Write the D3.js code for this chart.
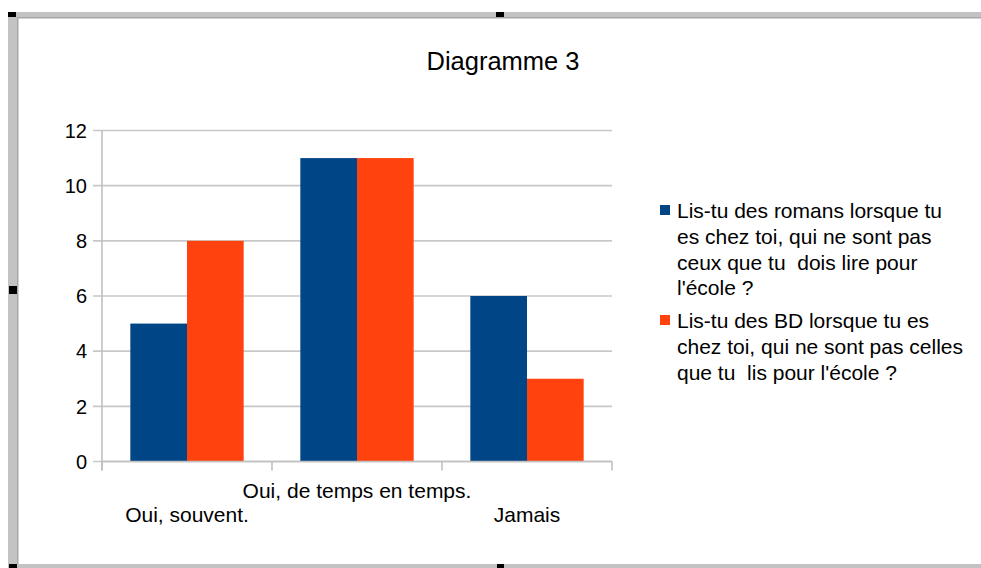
<!DOCTYPE html>
<html>
<head>
<meta charset="utf-8">
<script src="https://cdn.jsdelivr.net/npm/d3@7/dist/d3.min.js"></script>
<style>
  html, body { margin: 0; padding: 0; background: #fff; }
  svg { display: block; }
  text { font-family: "Liberation Sans", Arial, sans-serif; fill: #000; }
</style>
</head>
<body>
<svg id="chart" width="981" height="568"></svg>
<script>
const title = "Diagramme 3";
const categories = ["Oui, souvent.", "Oui, de temps en temps.", "Jamais"];
const seriesNames = [
  ["Lis-tu des romans lorsque tu", "es chez toi, qui ne sont pas", "ceux que tu  dois lire pour", "l'école ?"],
  ["Lis-tu des BD lorsque tu es", "chez toi, qui ne sont pas celles", "que tu  lis pour l'école ?"]
];
const romans = [5, 11, 6];
const bd = [8, 11, 3];
const yTicks = [0, 2, 4, 6, 8, 10, 12];
const colors = ["#004586", "#ff420e"];

const svg = d3.select("#chart");

// window frame (editor selection border)
svg.append("rect").attr("x", 0).attr("y", 0).attr("width", 981).attr("height", 568).attr("fill", "#fff");
svg.append("rect").attr("x", 8).attr("y", 12).attr("width", 973).attr("height", 6).attr("fill", "#c3c3c3");
svg.append("rect").attr("x", 18).attr("y", 17).attr("width", 963).attr("height", 1.5).attr("fill", "#a8a8a8");
svg.append("rect").attr("x", 8).attr("y", 12).attr("width", 10).attr("height", 556).attr("fill", "#c3c3c3");
svg.append("rect").attr("x", 17).attr("y", 17).attr("width", 1.5).attr("height", 548).attr("fill", "#a8a8a8");
svg.append("rect").attr("x", 8).attr("y", 564).attr("width", 973).attr("height", 4).attr("fill", "#c3c3c3");
// handles
[[8, 12, 8, 5], [496, 12, 8, 5], [9, 286, 8, 8], [497, 564, 7, 4], [9, 564, 8, 4]].forEach(h =>
  svg.append("rect").attr("x", h[0]).attr("y", h[1]).attr("width", h[2]).attr("height", h[3]).attr("fill", "#000"));

const plot = { left: 102, right: 612, top: 130.5, bottom: 461.5 };

const x0 = d3.scaleBand().domain(categories).range([plot.left, plot.right]).padding(0);
const x1 = d3.scaleBand().domain([0, 1]).range([0, x0.bandwidth()]).paddingInner(0).paddingOuter(0.5);
const y = d3.scaleLinear().domain([0, 12]).range([plot.bottom, plot.top]);

// gridlines
svg.append("g").selectAll("line").data(yTicks).join("line")
  .attr("x1", plot.left - 9).attr("x2", plot.right)
  .attr("y1", d => y(d)).attr("y2", d => y(d))
  .attr("stroke", "#c8c8c8").attr("stroke-width", 1.6);

// y axis line
svg.append("line").attr("x1", plot.left).attr("x2", plot.left)
  .attr("y1", plot.top).attr("y2", plot.bottom + 9)
  .attr("stroke", "#c0c0c0").attr("stroke-width", 1.6);

// y tick labels
svg.append("g").selectAll("text").data(yTicks).join("text")
  .attr("x", 87).attr("y", d => y(d)).attr("dy", "0.36em")
  .attr("text-anchor", "end").attr("font-size", 20)
  .text(d => d);

// bars
const series = [romans, bd];
series.forEach((vals, si) => {
  svg.append("g").selectAll("rect").data(vals).join("rect")
    .attr("x", (d, i) => x0(categories[i]) + x1(si))
    .attr("width", x1.bandwidth())
    .attr("y", d => y(d))
    .attr("height", d => y(0) - y(d))
    .attr("fill", colors[si]);
});

// x axis line and ticks
svg.append("line").attr("x1", plot.left).attr("x2", plot.right)
  .attr("y1", plot.bottom).attr("y2", plot.bottom)
  .attr("stroke", "#c0c0c0").attr("stroke-width", 1.6);
const xBounds = categories.map(c => x0(c)).concat([plot.right]);
svg.append("g").selectAll("line").data(xBounds).join("line")
  .attr("x1", d => d).attr("x2", d => d)
  .attr("y1", plot.bottom).attr("y2", plot.bottom + 9)
  .attr("stroke", "#c0c0c0").attr("stroke-width", 1.6);

// x labels (staggered)
svg.append("g").selectAll("text").data(categories).join("text")
  .attr("x", d => x0(d) + x0.bandwidth() / 2)
  .attr("y", (d, i) => i % 2 === 1 ? 498 : 522)
  .attr("text-anchor", "middle").attr("font-size", 21)
  .text(d => d);

// title
svg.append("text").attr("x", 503).attr("y", 70).attr("text-anchor", "middle")
  .attr("font-size", 25.5).text(title);

// legend
const legendTop = [218, 328];
seriesNames.forEach((lines, si) => {
  svg.append("rect").attr("x", 660).attr("y", legendTop[si] - 13).attr("width", 10).attr("height", 10)
    .attr("fill", colors[si]);
  const t = svg.append("text").attr("x", 677).attr("y", legendTop[si]).attr("font-size", 21)
    .attr("xml:space", "preserve").style("white-space", "pre");
  lines.forEach((l, li) => {
    t.append("tspan").attr("x", 677).attr("y", legendTop[si] + li * 25.8).text(l);
  });
});
</script>
</body>
</html>
